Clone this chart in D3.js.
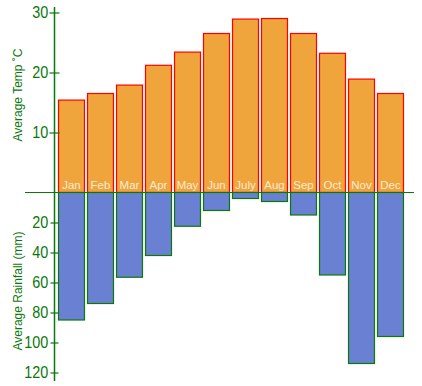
<!DOCTYPE html>
<html><head><meta charset="utf-8">
<script src="https://cdn.jsdelivr.net/npm/d3@7"></script>
<style>html,body{margin:0;padding:0;background:#fff;}svg{display:block;}</style>
</head><body>
<script>
const months = ["Jan","Feb","Mar","Apr","May","Jun","July","Aug","Sep","Oct","Nov","Dec"];
const temps = [15.4,16.5,17.9,21.2,23.4,26.5,28.9,29.0,26.5,23.2,18.9,16.5];
const rainfall = [85,74,56.5,42,22.5,12,4,6,15,55,114,96];
const tempTicks = [10,20,30];
const rainTicks = [20,40,60,80,100,120];

const W = 422, H = 386;
const green = "#0b780b";
const svg = d3.select("body").append("svg").attr("width", W).attr("height", H)
  .style("font-family", "'Liberation Sans', Arial, sans-serif");

const x = d3.scaleBand().domain(months).range([57, 405]).paddingInner(0.07).paddingOuter(0.035);
const yT = d3.scaleLinear().domain([0, 30]).range([192.5, 12.5]);
const yR = d3.scaleLinear().domain([0, 120]).range([192.5, 372.5]);

// temp bars
svg.append("g").selectAll("rect").data(months).join("rect")
  .attr("x", d => x(d) + 0.5)
  .attr("width", x.bandwidth() - 1)
  .attr("y", (d, i) => yT(temps[i]))
  .attr("height", (d, i) => yT(0) - yT(temps[i]))
  .attr("fill", "#f0a43c").attr("stroke", "#ff0000").attr("stroke-width", 1.2);

// rain bars
svg.append("g").selectAll("rect").data(months).join("rect")
  .attr("x", d => x(d) + 0.5)
  .attr("width", x.bandwidth() - 1)
  .attr("y", yR(0))
  .attr("height", (d, i) => yR(rainfall[i]) - yR(0))
  .attr("fill", "#6a80d2").attr("stroke", green).attr("stroke-width", 1.2);

// month labels
svg.append("g").selectAll("text").data(months).join("text")
  .attr("x", d => x(d) + x.bandwidth() / 2)
  .attr("y", 188.5)
  .attr("text-anchor", "middle")
  .attr("font-size", 11.5)
  .attr("fill", "#f8ecd4")
  .text(d => d);

// baseline
svg.append("line").attr("x1", 25).attr("x2", 414).attr("y1", yT(0)).attr("y2", yT(0))
  .attr("stroke", green).attr("stroke-width", 1.2);

// temp axis
const axT = svg.append("g").attr("transform", "translate(54.5,0)")
  .call(d3.axisLeft(yT).tickValues(tempTicks).tickSize(5).tickSizeInner(5).tickPadding(1));
axT.select(".domain").remove();
axT.selectAll(".tick line").attr("x1", -5).attr("x2", 5);
// rain axis
const axR = svg.append("g").attr("transform", "translate(54.5,0)")
  .call(d3.axisLeft(yR).tickValues(rainTicks).tickSize(5).tickPadding(1));
axR.select(".domain").remove();
axR.selectAll(".tick line").attr("x1", -4).attr("x2", 4);
svg.selectAll(".tick line").attr("stroke", green).attr("stroke-width", 1.2);
svg.selectAll(".tick text").attr("fill", green).attr("font-size", 16)
  .attr("font-family", "'Liberation Sans', Arial, sans-serif")
  .attr("transform", "scale(0.9,1)").attr("x", -7);

// vertical axis line
svg.append("line").attr("x1", 54.5).attr("x2", 54.5).attr("y1", 7).attr("y2", 381)
  .attr("stroke", green).attr("stroke-width", 1.5);

// axis titles
svg.append("text").attr("transform", "translate(22,95) rotate(-90)")
  .attr("text-anchor", "middle").attr("font-size", 12).attr("fill", green)
  .text("Average Temp  \u02daC");
svg.append("text").attr("transform", "translate(22,291) rotate(-90)")
  .attr("text-anchor", "middle").attr("font-size", 12).attr("fill", green)
  .text("Average Rainfall (mm)");
</script>
</body></html>
